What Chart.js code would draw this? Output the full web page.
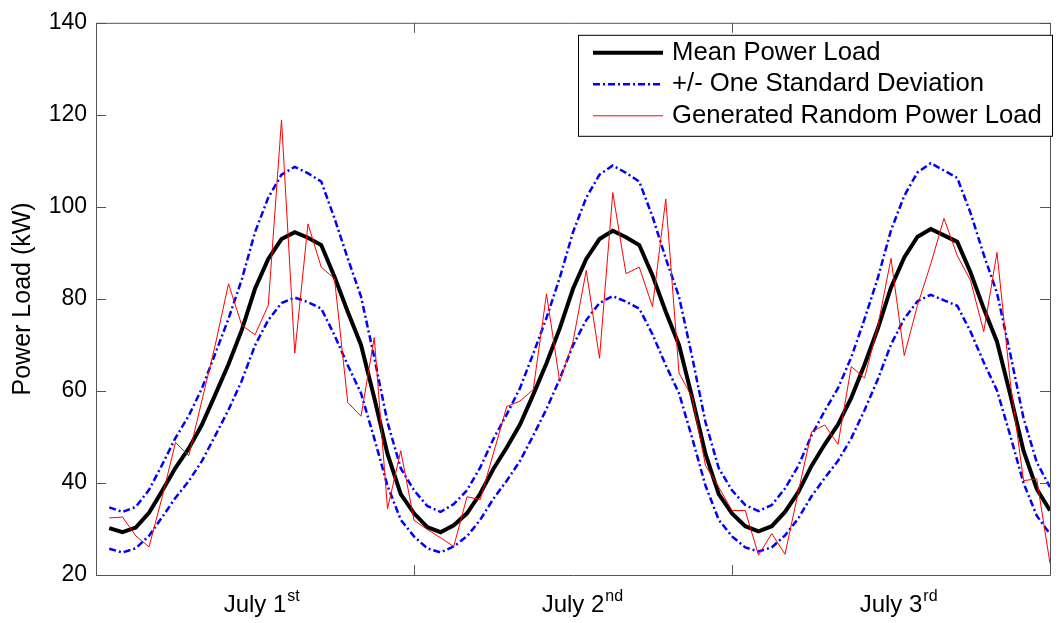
<!DOCTYPE html>
<html>
<head>
<meta charset="utf-8">
<script src="https://cdn.jsdelivr.net/npm/chart.js@4.4.0/dist/chart.umd.min.js"></script>
<style>
  html, body { margin: 0; padding: 0; background: #fff; }
</style>
</head>
<body>
<canvas id="chart" width="1059" height="623"></canvas>
<script>
// Hourly samples over three days (hour 1..72)
const HOURS = Array.from({ length: 72 }, (_, i) => i + 1);

const MEAN_LOAD = [
  30.2, 29.3, 30.3, 33.5, 38.3, 43.3, 47.5, 52.7, 59.2, 65.8, 73.2, 82.2,
  88.7, 93.0, 94.5, 93.3, 91.7, 84.8, 77.2, 70.0, 58.5, 46.3, 37.6, 33.4,
  30.4, 29.3, 30.8, 33.4, 37.7, 43.1, 47.7, 52.7, 59.2, 66.0, 73.6, 82.2,
  88.7, 93.0, 94.8, 93.4, 91.7, 85.1, 77.2, 70.0, 58.5, 46.3, 37.6, 33.4,
  30.6, 29.5, 30.6, 33.7, 38.0, 43.7, 48.4, 52.7, 58.5, 65.7, 73.5, 82.5,
  89.0, 93.5, 95.2, 93.8, 92.4, 85.8, 77.9, 70.7, 59.2, 47.0, 38.7, 34.0,
];

const UPPER_STD = [
  34.7, 33.7, 34.8, 38.5, 44.0, 49.8, 54.6, 60.6, 68.1, 75.7, 84.2, 94.5,
  102.0, 107.0, 108.7, 107.3, 105.5, 97.5, 88.8, 80.5, 67.3, 53.2, 43.2, 38.4,
  35.0, 33.7, 35.4, 38.4, 43.4, 49.6, 54.9, 60.6, 68.1, 75.9, 84.6, 94.5,
  102.0, 107.0, 109.0, 107.4, 105.5, 97.9, 88.8, 80.5, 67.3, 53.2, 43.2, 38.4,
  35.2, 33.9, 35.2, 38.8, 43.7, 50.3, 55.7, 60.6, 67.3, 75.6, 84.5, 94.9,
  102.4, 107.5, 109.5, 107.9, 106.3, 98.7, 89.6, 81.3, 68.1, 54.1, 44.5, 39.1,
];

const LOWER_STD = [
  25.7, 24.9, 25.8, 28.5, 32.6, 36.8, 40.4, 44.8, 50.3, 55.9, 62.2, 69.9,
  75.4, 79.1, 80.3, 79.3, 77.9, 72.1, 65.6, 59.5, 49.7, 39.4, 32.0, 28.4,
  25.8, 24.9, 26.2, 28.4, 32.0, 36.6, 40.5, 44.8, 50.3, 56.1, 62.6, 69.9,
  75.4, 79.1, 80.6, 79.4, 77.9, 72.3, 65.6, 59.5, 49.7, 39.4, 32.0, 28.4,
  26.0, 25.1, 26.0, 28.6, 32.3, 37.1, 41.1, 44.8, 49.7, 55.8, 62.5, 70.1,
  75.7, 79.5, 80.9, 79.7, 78.5, 72.9, 66.2, 60.1, 50.3, 40.0, 32.9, 28.9,
];

const RANDOM_LOAD = [
  32.4, 32.6, 28.5, 26.1, 37.0, 48.8, 45.9, 58.0, 70.0, 83.3, 74.3, 72.2,
  78.6, 118.9, 68.2, 96.3, 86.9, 84.4, 57.5, 54.5, 71.6, 34.4, 47.0, 31.9,
  29.9, 28.1, 26.2, 37.0, 36.4, 46.5, 56.6, 57.8, 60.3, 81.1, 62.0, 70.7,
  86.2, 67.1, 103.1, 85.5, 86.9, 78.3, 101.7, 63.9, 58.5, 43.8, 39.1, 34.0,
  34.0, 24.3, 29.0, 24.5, 38.0, 51.1, 52.6, 48.4, 65.3, 62.8, 74.0, 88.8,
  67.7, 78.6, 87.6, 97.5, 89.4, 84.0, 72.9, 90.1, 62.0, 40.5, 40.9, 22.5,
];

const DAY_TICKS = [0, 24, 48, 72];
const DAY_LABEL_AT = [12, 36, 60];
const DAY_LABELS = ['July 1', 'July 2', 'July 3'];
const DAY_SUPS = ['st', 'nd', 'rd'];

const FONT = "'Liberation Sans', Arial, sans-serif";
const STD_DASH = [7, 3, 2, 3];

function points(values) {
  return HOURS.map((h, i) => ({ x: h, y: values[i] }));
}

// ── Plugins ───────────────────────────────────────────

// MATLAB-style box with inward ticks on all four sides
const framePlugin = {
  id: 'frame',
  afterDatasetsDraw(chart) {
    const { ctx, chartArea: a, scales: { x, y } } = chart;
    const tl = 10;
    ctx.save();
    ctx.strokeStyle = '#555';
    ctx.lineWidth = 1;
    ctx.beginPath();
    ctx.rect(a.left + 0.5, a.top + 0.5, a.right - a.left, a.bottom - a.top);
    y.ticks.forEach(t => {
      const py = Math.round(y.getPixelForValue(t.value)) + 0.5;
      ctx.moveTo(a.left, py); ctx.lineTo(a.left + tl, py);
      ctx.moveTo(a.right, py); ctx.lineTo(a.right - tl, py);
    });
    DAY_TICKS.forEach(v => {
      const px = Math.round(x.getPixelForValue(v)) + 0.5;
      ctx.moveTo(px, a.bottom); ctx.lineTo(px, a.bottom - tl);
      ctx.moveTo(px, a.top); ctx.lineTo(px, a.top + tl);
    });
    ctx.stroke();
    ctx.restore();
  },
};

// x labels with superscript ordinals
const dayLabelPlugin = {
  id: 'dayLabels',
  afterDraw(chart) {
    const { ctx, scales: { x } } = chart;
    ctx.save();
    ctx.fillStyle = '#000';
    ctx.textBaseline = 'alphabetic';
    ctx.textAlign = 'left';
    DAY_LABELS.forEach((txt, i) => {
      ctx.font = '24px ' + FONT;
      const w = ctx.measureText(txt).width;
      const cx = x.getPixelForValue(DAY_LABEL_AT[i]);
      const x0 = cx - w / 2;
      ctx.fillText(txt, x0, 612);
      ctx.font = '16px ' + FONT;
      ctx.fillText(DAY_SUPS[i], x0 + w + 1, 601);
    });
    ctx.restore();
  },
};

// boxed legend in the upper right corner
const boxLegendPlugin = {
  id: 'boxLegend',
  afterDraw(chart) {
    const { ctx, chartArea: a } = chart;
    const ds = chart.data.datasets;
    const entries = [ds[0], ds[1], ds[3]];
    const bx = a.right - 472, by = a.top + 12, bw = 474, bh = 101;
    ctx.save();
    ctx.fillStyle = '#fff';
    ctx.fillRect(bx, by, bw, bh);
    ctx.strokeStyle = '#000';
    ctx.lineWidth = 1;
    ctx.strokeRect(bx + 0.5, by + 0.5, bw, bh);
    ctx.font = '25.7px ' + FONT;
    ctx.textBaseline = 'middle';
    ctx.fillStyle = '#000';
    entries.forEach((d, i) => {
      const ry = by + 18 + i * 31.5;
      ctx.beginPath();
      ctx.strokeStyle = d.borderColor;
      ctx.lineWidth = d.borderWidth;
      ctx.setLineDash(d.borderDash || []);
      ctx.moveTo(bx + 15, ry);
      ctx.lineTo(bx + 85, ry);
      ctx.stroke();
      ctx.setLineDash([]);
      ctx.fillText(d.label, bx + 94, ry);
    });
    ctx.restore();
  },
};

// ── Chart ─────────────────────────────────────────────

new Chart(document.getElementById('chart'), {
  type: 'line',
  data: {
    datasets: [
      {
        label: 'Mean Power Load',
        data: points(MEAN_LOAD),
        borderColor: '#000000',
        borderWidth: 4,
        order: 2,
      },
      {
        label: '+/- One Standard Deviation',
        data: points(UPPER_STD),
        borderColor: '#0000ff',
        borderWidth: 2.5,
        borderDash: STD_DASH,
        order: 1,
      },
      {
        label: 'lower',
        data: points(LOWER_STD),
        borderColor: '#0000ff',
        borderWidth: 2.5,
        borderDash: STD_DASH,
        order: 1,
      },
      {
        label: 'Generated Random Power Load',
        data: points(RANDOM_LOAD),
        borderColor: '#ff0000',
        borderWidth: 1,
        order: 0,
      },
    ],
  },
  options: {
    responsive: false,
    animation: false,
    devicePixelRatio: 1,
    layout: { padding: { top: 19, right: 9, left: 0, bottom: 0 } },
    elements: {
      point: { radius: 0 },
      line: { tension: 0, fill: false, borderJoinStyle: 'miter' },
    },
    plugins: {
      legend: { display: false },
      tooltip: { enabled: false },
    },
    scales: {
      x: {
        type: 'linear',
        min: 0,
        max: 72,
        grid: { display: false, drawTicks: false },
        border: { display: false },
        ticks: { display: false },
        afterFit(scale) { scale.height = 48; },
      },
      y: {
        min: 20,
        max: 140,
        grid: { display: false, drawTicks: false },
        border: { display: false },
        ticks: {
          stepSize: 20,
          padding: 9,
          color: '#000',
          font: { family: FONT, size: 23 },
        },
        title: {
          display: true,
          text: 'Power Load (kW)',
          color: '#000',
          font: { family: FONT, size: 25 },
          padding: { top: 8, bottom: 0 },
        },
        afterFit(scale) { scale.width = 96; },
      },
    },
  },
  plugins: [framePlugin, dayLabelPlugin, boxLegendPlugin],
});
</script>
</body>
</html>
